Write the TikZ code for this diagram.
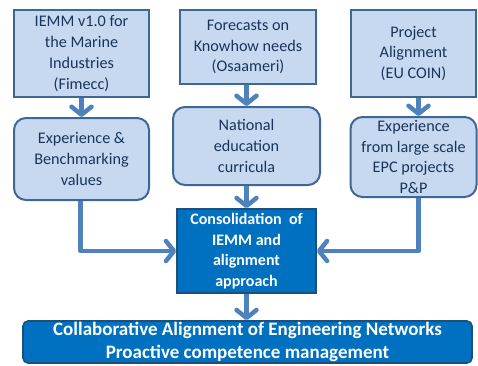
\documentclass[tikz,border=0pt]{standalone}
\usepackage{fontspec}
\setmainfont{Carlito}
\usetikzlibrary{arrows.meta,calc}
\definecolor{lightfill}{HTML}{C6D9F1}
\definecolor{boxborder}{HTML}{3F6796}
\definecolor{arrowblue}{HTML}{4F81BD}
\definecolor{textnavy}{HTML}{1B3558}
\definecolor{darkfill}{HTML}{0070C0}
\definecolor{darkborder}{HTML}{1F4E79}
\tikzset{
  lightbox/.style={draw=boxborder, line width=2pt, fill=lightfill, text=textnavy,
    align=center, font=\fontsize{16.2}{20.8}\selectfont, inner sep=0pt},
  roundbox/.style={lightbox, rounded corners=12pt},
  darkbox/.style={draw=darkborder, line width=1.6pt, fill=darkfill, text=white,
    align=center, inner sep=0pt},
  flow/.style={draw=arrowblue, line width=4.5pt, line join=round,
    -{Straight Barb[length=8pt,width=20pt,round]}},
}
\begin{document}
\begin{tikzpicture}[x=1pt,y=-1pt]
\useasboundingbox (0,0) rectangle (478,365);
% top row
\node[lightbox, minimum width=135pt, minimum height=87pt] (a1) at (81.5,53.5)
  {IEMM v1.0 for\\the Marine\\Industries\\(Fimecc)};
\node[lightbox, minimum width=136pt, minimum height=74pt] (b1) at (248,47)
  {Forecasts on\\Knowhow needs\\(Osaameri)};
\node[lightbox, minimum width=125pt, minimum height=87pt] (c1) at (413.5,53.5)
  {Project\\Alignment\\(EU COIN)};
% second row
\node[roundbox, minimum width=135pt, minimum height=82pt] (a2) at (81.5,159)
  {Experience \&\\Benchmarking\\values};
\node[roundbox, minimum width=147pt, minimum height=78pt] (b2) at (246.5,146)
  {National\\education\\curricula};
\node[roundbox, minimum width=126pt, minimum height=80pt] (c2) at (413.5,157)
  {Experience\\from large scale\\EPC projects\\P\&P};
% consolidation
\node[darkbox, minimum width=139pt, minimum height=84pt,
  font=\bfseries\fontsize{16}{20.7}\selectfont] (d) at (246.5,251)
  {Consolidation\ \ of\\IEMM and\\alignment\\approach};
% bottom
\node[darkbox, minimum width=449pt, minimum height=42pt, rounded corners=5pt,
  font=\bfseries\fontsize{19}{23}\selectfont] (e) at (247.5,342)
  {Collaborative Alignment of Engineering Networks\\Proactive competence management};
% connectors
\draw[flow] (a1.south) -- (a2.north);
\draw[flow] (b1.south -| b2.north) -- (b2.north);
\draw[flow] ([xshift=5pt]c1.south) -- ([xshift=5pt]c2.north);
\draw[flow] ([xshift=-1pt]a2.south) |- (d.west);
\draw[flow] ([xshift=5pt]c2.south) |- (d.east);
\draw[flow] (b2.south -| d.north) -- (d.north);
\draw[flow] (d.south) -- (d.south |- e.north);
\end{tikzpicture}
\end{document}
